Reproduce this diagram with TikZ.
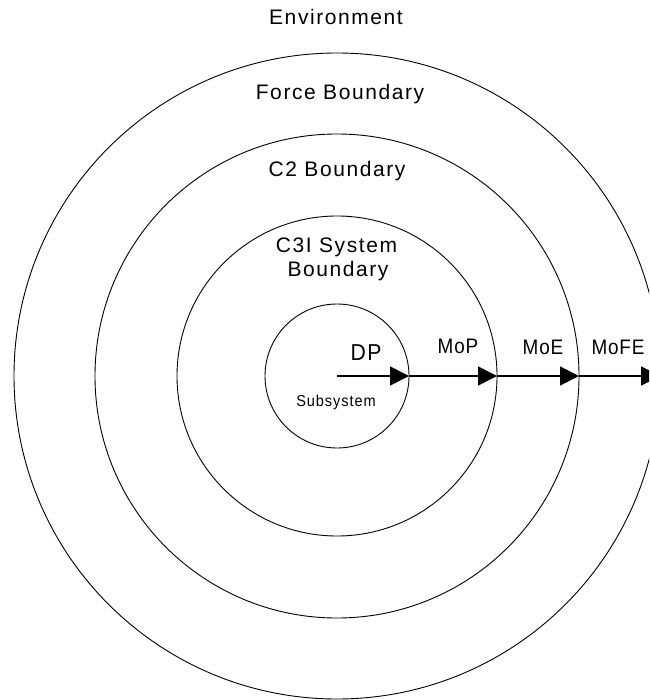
\documentclass[tikz,border=0pt]{standalone}
\usepackage{fontspec}
\setmainfont{Liberation Sans}[LetterSpace=6, FakeStretch=0.92]
\newfontfamily\widesans{Liberation Sans}[LetterSpace=7.5]
\newfontfamily\narrowsans{Liberation Sans}[LetterSpace=4, FakeStretch=0.9]
\usetikzlibrary{arrows.meta}
\begin{document}
\begin{tikzpicture}[x=1pt,y=-1pt,
  ring/.style={circle,draw,line width=0.9pt,inner sep=0pt,outer sep=0pt},
  lbl/.style={font=\widesans\fontsize{21}{24}\selectfont,inner sep=0pt,anchor=base},
  measure/.style={font=\narrowsans\fontsize{21}{24}\selectfont,inner sep=0pt,anchor=base},
  small/.style={font=\fontsize{15.8}{18}\selectfont,inner sep=0pt,anchor=base},
  flow/.style={line width=1.7pt,-{Triangle[length=19pt,width=19pt]}}]
\useasboundingbox (0,0) rectangle (649,700);
\clip (0,0) rectangle (649,700);
\coordinate (c) at (337,376);
% concentric boundaries
\node[ring,minimum size=646pt] (force) at (c) {};
\node[ring,minimum size=484pt] (ctwo) at (c) {};
\node[ring,minimum size=320pt] (cthree) at (c) {};
\node[ring,minimum size=144pt] (sub) at (c) {};
% boundary labels
\node[lbl] (env) at (336,25) {Environment};
\node[lbl] (forcelbl) at (340,100) {Force Boundary};
\node[lbl] (ctwolbl) at (337,177) {C2 Boundary};
\node[lbl] (cthreelbla) at (336.5,253) {C3I System};
\node[lbl] (cthreelblb) at (338,276) {Boundary};
\node[lbl,font=\fontsize{23}{26}\selectfont] (dp) at (366,360) {DP};
\node[small] (sublbl) at (336,406) {Subsystem};
\node[measure] (mop) at (458,353) {MoP};
\node[measure] (moe) at (543,354) {MoE};
\node[measure] (mofe) at (618,354) {MoFE};
% measures flowing outwards
\draw[flow] (c) -- (sub.east);
\draw[flow] (sub.east) -- (cthree.east);
\draw[flow] (cthree.east) -- (ctwo.east);
\draw[flow] (ctwo.east) -- (force.east);
\end{tikzpicture}
\end{document}
